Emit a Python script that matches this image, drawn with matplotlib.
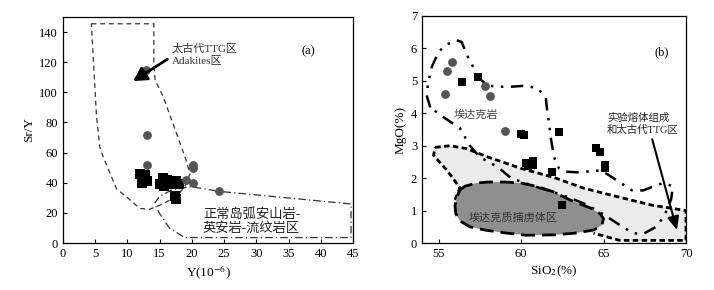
import matplotlib
matplotlib.use("Agg")
import matplotlib.pyplot as plt
import numpy as np

plt.rcParams['font.family'] = ['Liberation Serif', 'Noto Sans CJK SC']
plt.rcParams['mathtext.fontset'] = 'stix'

# ---------------- Panel (a) data ----------------
a_circle_y = [12.9, 13.1, 13.1, 20.2, 20.1, 19.1, 20.2, 24.2]
a_circle_sry = [115, 72, 51.7, 52, 50, 42, 40, 34.3]
a_square_y = [12.0, 12.3, 12.6, 12.3, 13.0, 12.8, 15.0, 15.5, 15.8, 16.2, 16.6,
              17.0, 17.5, 18.0, 17.4, 17.6, 15.6, 16.8]
a_square_sry = [46, 44, 42, 40, 41, 45, 39, 43, 40, 42, 40,
                39, 41, 39, 31, 29, 38, 41]
adakite_a_x = [4.4, 14.1, 14.1, 14.3, 15.5, 17.6, 19.1, 19.7, 18.9, 17.6, 15.5,
               13.4, 11.9, 9.8, 8.3, 6.2, 5.7, 5.2, 4.4]
adakite_a_y = [145.5, 145.5, 118, 108, 97.6, 73, 55, 46, 37.4, 30.8, 26,
               22.3, 23, 30.8, 36, 57.5, 64, 84, 145.5]
arc_x = [14.2, 15.0, 17.0, 19.9, 24.2, 44.7, 44.7, 18.9, 16.5, 15.0, 14.2]
arc_y = [26.3, 31.0, 35.5, 37.4, 34.3, 25.9, 3.6, 3.6, 10.0, 19.5, 26.3]

# ---------------- Panel (b) data ----------------
b_circle_si = [55.5, 55.8, 55.4, 57.8, 58.1, 59.0]
b_circle_mg = [5.31, 5.58, 4.59, 4.85, 4.54, 3.44]
b_square_si = [56.4, 57.4, 60.0, 60.2, 62.3, 60.3, 60.4, 60.7, 60.7, 61.9,
               64.55, 64.8, 65.1, 65.1, 62.5]
b_square_mg = [4.98, 5.11, 3.37, 3.32, 3.41, 2.46, 2.36, 2.52, 2.41, 2.19,
               2.93, 2.82, 2.39, 2.30, 1.16]
light_x = [54.8, 55.7, 56.7, 58.0, 60.0, 62.0, 63.8, 65.9, 67.9, 70.0, 70.0,
           66.0, 64.4, 62.0, 58.9, 56.9, 56.1, 56.0, 56.3, 55.5, 54.7, 54.8]
light_y = [2.95, 3.0, 2.91, 2.65, 2.3, 2.02, 1.69, 1.42, 1.17, 1.0, 0.08,
           0.08, 0.3, 0.25, 0.34, 0.5, 0.82, 1.33, 1.7, 2.25, 2.7, 2.95]
restite_x = [56.3, 56.6, 57.3, 58.0, 59.0, 60.0, 61.0, 62.0, 63.0, 64.2, 64.8,
             65.0, 64.9, 64.4, 63.2, 62.0, 60.3, 58.9, 57.8, 56.9, 56.3, 56.05, 56.0, 56.1, 56.3]
restite_y = [1.64, 1.75, 1.85, 1.88, 1.88, 1.85, 1.74, 1.57, 1.32, 1.08, 0.9,
             0.75, 0.55, 0.4, 0.3, 0.25, 0.24, 0.32, 0.4, 0.5, 0.68, 0.9, 1.15, 1.4, 1.64]
adakite_b_x = [54.5, 54.3, 54.35, 54.6, 55.0, 55.4, 56.1, 56.4, 56.8, 57.0, 57.4,
               58.0, 58.7, 59.4, 60.3, 61.0, 61.5, 61.6, 61.7, 61.8, 62.0, 62.3,
               62.7, 63.4, 64.4, 64.85, 65.3, 65.9, 66.7, 67.4, 67.9, 68.6, 69.2,
               69.1, 68.7, 68.2, 67.4, 66.8, 66.0, 65.0, 64.0, 62.4, 60.8, 59.4,
               58.6, 57.5, 56.9, 56.3, 55.3, 54.5]
adakite_b_y = [4.18, 4.52, 4.88, 5.44, 5.88, 6.1, 6.25, 6.2, 5.72, 5.53, 5.1,
               4.85, 4.82, 4.82, 4.85, 4.77, 4.5, 4.0, 3.72, 3.26, 2.65, 2.3,
               2.2, 2.18, 2.22, 2.24, 2.1, 1.9, 1.63, 1.62, 1.72, 1.85, 1.75,
               1.35, 0.85, 0.5, 0.28, 0.3, 0.55, 0.88, 1.18, 1.5, 1.75, 2.0,
               2.34, 2.65, 3.0, 3.54, 3.88, 4.18]

fig = plt.figure(figsize=(7.14, 2.9), dpi=100)
axa = fig.add_axes([63/714, 47/290, 290/714, 226/290])
axb = fig.add_axes([422/714, 47/290, 264/714, 227/290])

tick_kw = dict(direction='in', labelsize=9, length=3, width=0.8)

# ----- panel a -----
axa.plot(adakite_a_x, adakite_a_y, color='#333333', lw=0.9, ls=(0, (4, 3)))
axa.plot(arc_x, arc_y, color='#333333', lw=0.9, ls=(0, (6, 2.5, 1, 2.5)))
axa.scatter(a_square_y, a_square_sry, marker='s', s=42, color='black', zorder=3, linewidths=0)
axa.scatter(a_circle_y, a_circle_sry, marker='o', s=40, color='#555555', zorder=4, linewidths=0)
axa.annotate('', xy=(10.9, 107.5), xytext=(16.2, 122),
             arrowprops=dict(arrowstyle='-|>,head_length=0.8,head_width=0.45', color='black',
                             lw=2.0, shrinkA=0, shrinkB=0), zorder=5)
axa.text(16.9, 125, '太古代TTG区\nAdakites区', fontsize=8, color='#333333', linespacing=1.2, va='center')
axa.text(37, 127.5, '(a)', fontsize=9, va='center')
axa.text(21.7, 14.5, '正常岛弧安山岩-\n英安岩-流纹岩区', fontsize=9.5, color='#222222',
         linespacing=1.1, va='center')
axa.set_xlim(0, 45)
axa.set_ylim(0, 150)
axa.set_xticks(range(0, 46, 5))
axa.set_yticks(range(0, 141, 20))
axa.tick_params(**tick_kw)
axa.set_xlabel('Y(10$^{-6}$)', fontsize=9.5, labelpad=3)
axa.set_ylabel('Sr/Y', fontsize=9.5, labelpad=3)

# ----- panel b -----
axb.fill(light_x, light_y, facecolor='#ebebeb', edgecolor='none', zorder=1)
axb.plot(light_x[:11] + [66.0, 64.4], light_y[:11] + [0.08, 0.3], color='black', lw=2.0,
         ls=(0, (2, 1.2)), zorder=2)
axb.plot(light_x[17:], light_y[17:], color='black', lw=2.0, ls=(0, (2, 1.2)), zorder=2)
axb.fill(restite_x, restite_y, facecolor='#8f8f8f', edgecolor='black', lw=2.0,
         ls=(0, (5, 2.5)), zorder=2)
axb.plot(adakite_b_x, adakite_b_y, color='black', lw=1.8, ls=(0, (5, 3, 1, 3, 1, 3)), zorder=3)
axb.scatter(b_square_si, b_square_mg, marker='s', s=40, color='black', zorder=4, linewidths=0)
axb.scatter(b_circle_si, b_circle_mg, marker='o', s=40, color='#555555', zorder=5, linewidths=0)
axb.annotate('', xy=(69.45, 0.4), xytext=(67.95, 3.2),
             arrowprops=dict(arrowstyle='-|>,head_length=0.8,head_width=0.35', color='black',
                             lw=1.5, shrinkA=0, shrinkB=0), zorder=6)
axb.text(65.2, 3.67, '实验熔体组成\n和太古代TTG区', fontsize=7.5, color='#222222',
         linespacing=1.2, va='center')
axb.text(55.9, 3.95, '埃达克岩', fontsize=8, color='#444444', va='center')
axb.text(56.8, 0.78, '埃达克质捕虏体区', fontsize=8, color='#333333', va='center', zorder=6)
axb.text(68.1, 5.88, '(b)', fontsize=9, va='center')
axb.set_xlim(54, 70)
axb.set_ylim(0, 7)
axb.set_xticks([55, 60, 65, 70])
axb.set_yticks(range(0, 8))
axb.tick_params(**tick_kw)
axb.set_xlabel('SiO$_2$(%)', fontsize=9.5, labelpad=3)
axb.set_ylabel('MgO(%)', fontsize=9.5, labelpad=3)

for ax in (axa, axb):
    for s in ax.spines.values():
        s.set_linewidth(0.9)

fig.savefig('out.png', dpi=100)
